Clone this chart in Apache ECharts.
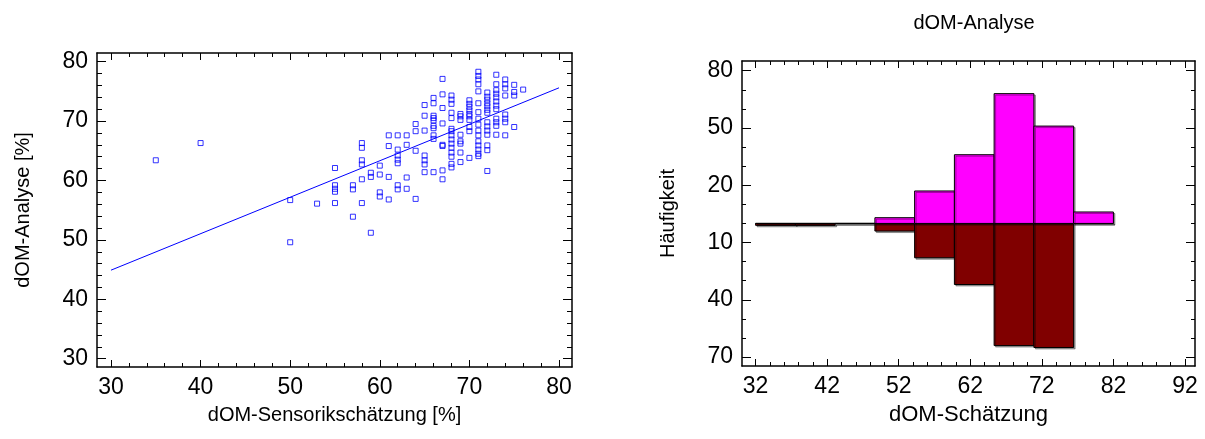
<!DOCTYPE html>
<html>
<head>
<meta charset="utf-8">
<script src="https://cdn.jsdelivr.net/npm/echarts@6/dist/echarts.min.js"></script>
<style>
html,body{margin:0;padding:0;background:#fff;}
#chart{width:1205px;height:439px;}
</style>
</head>
<body>
<div id="chart"></div>
<script>
// ---------- Scatter: dOM-Sensorikschätzung vs dOM-Analyse ----------
const scatterX = [
  35, 40, 50, 50,
  53,
  55, 55, 55, 55, 55,
  57, 57, 57,
  58, 58, 58, 58, 58, 58,
  59, 59, 59,
  60, 60, 60, 60,
  61, 61, 61, 61,
  62, 62, 62, 62, 62, 62, 62,
  63, 63, 63, 63,
  64, 64, 64, 64,
  65, 65, 65, 65, 65, 65, 65,
  66, 66, 66, 66, 66, 66, 66, 66, 66, 66,
  67, 67, 67, 67, 67, 67, 67, 67,
  68, 68, 68, 68, 68, 68, 68, 68, 68, 68, 68, 68, 68, 68, 68,
  69, 69, 69, 69, 69, 69, 69, 69,
  70, 70, 70, 70, 70, 70, 70, 70, 70, 70,
  71, 71, 71, 71, 71, 71, 71, 71, 71, 71, 71, 71, 71, 71, 71, 71,
  72, 72, 72, 72, 72, 72, 72, 72, 72, 72, 72, 72, 72, 72,
  73, 73, 73, 73, 73, 73, 73, 73, 73, 73, 73, 73,
  74, 74, 74, 74, 74, 74, 74, 74,
  75, 75, 75, 75,
  76
];
const scatterY = [
  63.4, 66.3, 56.7, 49.6,
  56.1,
  62.1, 59.2, 58.6, 58.1, 56.2,
  59.2, 58.5, 53.9,
  66.3, 65.5, 63.4, 62.7, 60.2, 56.2,
  61.3, 60.6, 51.2,
  62.5, 61.0, 58.0, 57.3,
  67.6, 65.8, 60.6, 56.8,
  67.6, 65.2, 64.2, 63.5, 62.9, 59.2, 58.5,
  67.6, 66.0, 60.5, 58.6,
  69.5, 68.3, 65.0, 56.9,
  72.7, 70.9, 68.4, 64.2, 63.4, 62.7, 61.4,
  73.9, 73.0, 70.9, 70.5, 70.1, 69.2, 68.8, 67.6, 67.0, 61.4,
  77.1, 74.5, 72.2, 69.6, 66.0, 65.8, 61.7, 60.2,
  74.3, 73.6, 72.9, 71.4, 70.5, 68.7, 68.3, 67.6, 66.9, 66.2, 65.5, 64.7, 64.0, 62.8, 62.2,
  71.2, 70.8, 70.2, 67.7, 66.6, 66.2, 64.7, 63.1,
  73.5, 72.9, 72.4, 71.8, 71.2, 70.8, 70.2, 69.0, 68.3, 63.8,
  78.3, 77.6, 77.0, 76.2, 75.0, 73.0, 71.5, 70.4, 69.4, 68.4, 67.6, 66.6, 65.9, 65.2, 64.5, 64.1,
  74.8, 74.1, 73.6, 73.0, 72.5, 71.9, 71.4, 69.8, 69.1, 68.4, 67.7, 65.9, 65.1, 61.6,
  77.8, 76.2, 75.2, 74.6, 74.0, 73.3, 72.6, 72.0, 70.4, 69.8, 69.2, 67.7,
  77.0, 76.2, 75.5, 74.3, 71.1, 70.4, 69.8, 67.6,
  76.1, 74.9, 74.3, 69.0,
  75.3
];
// fitted regression line end points
const fitX = [30, 80];
const fitY = [44.9, 75.6];

const scatterXTicks = [30, 40, 50, 60, 70, 80];
const scatterXMinor = [32, 34, 36, 38, 42, 44, 46, 48, 52, 54, 56, 58, 62, 64, 66, 68, 72, 74, 76, 78];
const scatterYTicks = [30, 40, 50, 60, 70, 80];
const scatterYMinor = [32, 34, 36, 38, 42, 44, 46, 48, 52, 54, 56, 58, 62, 64, 66, 68, 72, 74, 76, 78];

// ---------- Back-to-back histogram ----------
const binEdges = [32, 37.56, 43.11, 48.67, 54.22, 59.78, 65.33, 70.89, 76.44, 82];
const countsAnalyse = [0, 0, 0, 3, 17, 36, 68, 51, 6];      // upper (dOM-Analyse)
const countsSchaetzung = [1, 1, 0, 4, 18, 32, 64, 65, 0];   // lower (dOM-Schätzung)

const histXTicks = [32, 42, 52, 62, 72, 82, 92];
const histXMinor = [34, 36, 38, 40, 44, 46, 48, 50, 54, 56, 58, 60, 64, 66, 68, 70, 74, 76, 78, 80, 84, 86, 88, 90];
const histYTicks = [-70, -40, -10, 20, 50, 80];
const histYMinor = [-60, -50, -30, -20, 0, 10, 30, 40, 60, 70];

const FONT = "'Liberation Sans', Arial, sans-serif";
const FS = 23;

const G0 = {x0: 28.44, x1: 81.45, y0: 28.6, y1: 81.46};
const G1 = {x0: 30.1, x1: 93.4, y0: -74.7, y1: 85.1};

function axis(dim, grid, pos, ext, ticks, len, opts) {
  const a = {
    type: 'value', gridIndex: grid, position: pos,
    min: ext[0], max: ext[1],
    axisLine: {show: !!(opts && opts.line), onZero: false, lineStyle: {color: '#000', width: 1.5}},
    axisTick: {show: true, inside: true, length: len, customValues: ticks, lineStyle: {color: '#000', width: 1}},
    axisLabel: {show: false},
    splitLine: {show: false}
  };
  if (opts && opts.labels) {
    a.axisLabel = {show: true, customValues: ticks, color: '#000', fontFamily: FONT, fontSize: FS, margin: 9,
      formatter: opts.fmt || (v => String(v)), showMinLabel: true, showMaxLabel: true};
  }
  if (opts && opts.name) {
    a.name = opts.name;
    a.nameLocation = 'middle';
    a.nameGap = opts.gap;
    a.nameTextStyle = {color: '#000', fontFamily: FONT, fontSize: opts.nfs || FS};
  }
  return a;
}

const xAxes = [
  axis('x', 0, 'bottom', [G0.x0, G0.x1], scatterXTicks, 7, {line: true, labels: true, name: 'dOM-Sensorikschätzung [%]', gap: 38, nfs: 20}),
  axis('x', 0, 'bottom', [G0.x0, G0.x1], scatterXMinor, 4, {}),
  axis('x', 0, 'top', [G0.x0, G0.x1], scatterXTicks, 7, {line: true}),
  axis('x', 0, 'top', [G0.x0, G0.x1], scatterXMinor, 4, {}),
  axis('x', 1, 'bottom', [G1.x0, G1.x1], histXTicks, 7, {line: true, labels: true, name: 'dOM-Schätzung', gap: 38, nfs: 22}),
  axis('x', 1, 'bottom', [G1.x0, G1.x1], histXMinor, 4, {}),
  axis('x', 1, 'top', [G1.x0, G1.x1], histXTicks, 7, {line: true}),
  axis('x', 1, 'top', [G1.x0, G1.x1], histXMinor, 4, {})
];
const yAxes = [
  axis('y', 0, 'left', [G0.y0, G0.y1], scatterYTicks, 9, {line: true, labels: true, name: 'dOM-Analyse [%]', gap: 64, nfs: 20}),
  axis('y', 0, 'left', [G0.y0, G0.y1], scatterYMinor, 5, {}),
  axis('y', 0, 'right', [G0.y0, G0.y1], scatterYTicks, 9, {line: true}),
  axis('y', 0, 'right', [G0.y0, G0.y1], scatterYMinor, 5, {}),
  axis('y', 1, 'left', [G1.y0, G1.y1], histYTicks, 9, {line: true, labels: true, name: 'Häufigkeit', gap: 64, nfs: 20, fmt: v => String(Math.abs(v))}),
  axis('y', 1, 'left', [G1.y0, G1.y1], histYMinor, 4, {}),
  axis('y', 1, 'right', [G1.y0, G1.y1], histYTicks, 9, {line: true}),
  axis('y', 1, 'right', [G1.y0, G1.y1], histYMinor, 4, {})
];

const scatterData = scatterX.map((x, i) => [x, scatterY[i]]);
const fitData = fitX.map((x, i) => [x, fitY[i]]);
const upperData = countsAnalyse.map((c, i) => [binEdges[i], binEdges[i + 1], c]);
const lowerData = countsSchaetzung.map((c, i) => [binEdges[i], binEdges[i + 1], -c]);

function histRender(fill) {
  return function (params, api) {
    const p0 = api.coord([api.value(0), 0]);
    const p1 = api.coord([api.value(1), api.value(2)]);
    const x = Math.min(p0[0], p1[0]);
    const y = Math.min(p0[1], p1[1]);
    return {
      type: 'rect',
      shape: {x: x, y: y, width: Math.abs(p1[0] - p0[0]), height: Math.abs(p1[1] - p0[1])},
      style: {fill: fill, stroke: '#000', lineWidth: 1,
        shadowColor: 'rgba(0,0,0,0.35)', shadowOffsetX: 1.5, shadowOffsetY: 1.5, shadowBlur: 0}
    };
  };
}

const chart = echarts.init(document.getElementById('chart'), null, {renderer: 'canvas'});
chart.setOption({
  animation: false,
  backgroundColor: '#fff',
  title: {
    text: 'dOM-Analyse', left: 969, top: 8, textAlign: 'center',
    textStyle: {color: '#000', fontFamily: FONT, fontSize: 20, fontWeight: 'normal'}
  },
  grid: [
    {left: 97, top: 53, width: 475, height: 314},
    {left: 742, top: 61, width: 453, height: 305}
  ],
  xAxis: xAxes,
  yAxis: yAxes,
  series: [
    {
      type: 'line', xAxisIndex: 0, yAxisIndex: 0, data: fitData,
      showSymbol: false, silent: true,
      lineStyle: {color: '#0000ff', width: 1}
    },
    {
      type: 'scatter', xAxisIndex: 0, yAxisIndex: 0, data: scatterData,
      symbol: 'rect', symbolSize: 5, silent: true,
      itemStyle: {color: 'rgba(0,0,0,0)', borderColor: '#0000ff', borderWidth: 1}
    },
    {
      type: 'custom', xAxisIndex: 4, yAxisIndex: 4, data: lowerData,
      renderItem: histRender('#800000'), silent: true
    },
    {
      type: 'custom', xAxisIndex: 4, yAxisIndex: 4, data: upperData,
      renderItem: histRender('#ff00ff'), silent: true
    }
  ]
});
</script>
</body>
</html>
